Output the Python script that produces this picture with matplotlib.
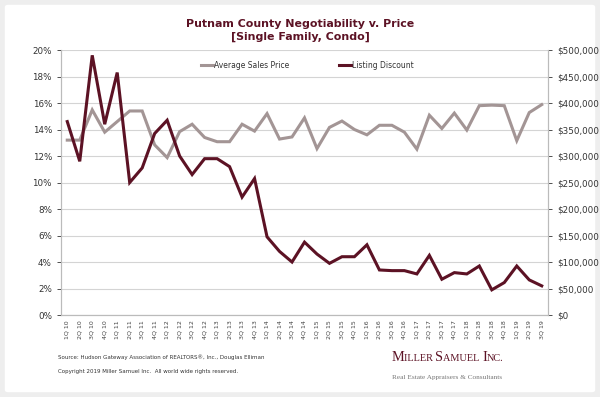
import matplotlib.pyplot as plt
from matplotlib.patches import FancyBboxPatch
from matplotlib.ticker import FuncFormatter, MultipleLocator

quarters = [f"{q}Q {y}" for y in range(10, 20) for q in range(1, 5)][:39]

listing_discount = [
    14.6, 11.6, 19.6, 14.4, 18.3, 10.0, 11.1, 13.7, 14.7, 12.0,
    10.6, 11.8, 11.8, 11.2, 8.9, 10.3, 5.9, 4.8, 4.0, 5.5,
    4.6, 3.9, 4.4, 4.4, 5.3, 3.4, 3.35, 3.35, 3.1, 4.5,
    2.7, 3.2, 3.1, 3.7, 1.9, 2.45, 3.7, 2.65, 2.2,
]

avg_sales_price = [
    330000, 330000, 387000, 345000, 365000, 385000, 385000, 321000, 297000, 346000,
    360000, 335000, 327000, 327000, 360000, 347000, 380000, 332000, 336000, 372000,
    314000, 354000, 366000, 350000, 340000, 358000, 358000, 345000, 313000, 377000,
    352000, 381000, 349000, 395000, 396000, 395000, 329000, 382000, 397000,
]

maroon = "#5c1224"
gray_line = "#a39595"
text_col = "#333333"

fig = plt.figure(figsize=(6, 3.97), dpi=100)
fig.patch.set_facecolor("#eeeeee")
fig.patches.append(FancyBboxPatch((0.008, 0.012), 0.984, 0.976,
                                  boxstyle="round,pad=0,rounding_size=0.006",
                                  transform=fig.transFigure, facecolor="white",
                                  edgecolor="none", zorder=-10))

ax = fig.add_axes([0.1017, 0.2065, 0.8116, 0.6675])
ax2 = ax.twinx()

x = list(range(len(quarters)))
ax2.plot(x, avg_sales_price, color=gray_line, lw=2.2, label="Average Sales Price",
         solid_joinstyle="miter")
ax.plot(x, listing_discount, color=maroon, lw=2.2, label="Listing Discount",
        solid_joinstyle="miter", zorder=5)
ax.set_zorder(ax2.get_zorder() + 1)
ax.patch.set_visible(False)

ax.set_xlim(-0.5, len(quarters) - 0.5)
ax.set_ylim(0, 20)
ax2.set_ylim(0, 500000)
ax.yaxis.set_major_locator(MultipleLocator(2))
ax2.yaxis.set_major_locator(MultipleLocator(50000))
ax.yaxis.set_major_formatter(FuncFormatter(lambda v, p: f"{v:.0f}%"))
ax2.yaxis.set_major_formatter(FuncFormatter(lambda v, p: f"${v:,.0f}"))
ax2.grid(axis="y", color="#d4d4d4", lw=0.8)
ax2.set_axisbelow(True)

ax.set_xticks(x)
ax.set_xticklabels(quarters, rotation=90, fontsize=4.5, color="#444444")
ax.tick_params(axis="x", length=0, pad=4)
ax.tick_params(axis="y", labelsize=6.3, colors=text_col, length=3, width=0.6)
ax2.tick_params(axis="y", labelsize=6.3, colors=text_col, length=3, width=0.6)
for a in (ax, ax2):
    a.spines["top"].set_visible(False)
    for side in ("left", "right", "bottom"):
        a.spines[side].set_color("#bbbbbb")
        a.spines[side].set_linewidth(0.8)
for t in ax.get_yticklines() + ax2.get_yticklines():
    t.set_color("#999999")

h1, l1 = ax2.get_legend_handles_labels()
h2, l2 = ax.get_legend_handles_labels()
ax.legend(h1 + h2, l1 + l2, loc="upper center", bbox_to_anchor=(0.506, 0.985), ncol=2,
          frameon=False, fontsize=5.5, handlelength=1.6, handletextpad=0.1,
          columnspacing=6.5, labelcolor=text_col)

fig.text(0.5, 0.94, "Putnam County Negotiability v. Price", ha="center", va="center",
         fontsize=7.9, fontweight="bold", color=maroon)
fig.text(0.5, 0.907, "[Single Family, Condo]", ha="center", va="center",
         fontsize=7.9, fontweight="bold", color=maroon)

fig.text(0.097, 0.1, "Source: Hudson Gateway Association of REALTORS®, Inc., Douglas Elliman",
         fontsize=4, color=text_col, va="center")
fig.text(0.097, 0.063, "Copyright 2019 Miller Samuel Inc.  All world wide rights reserved.",
         fontsize=4, color=text_col, va="center")

# small caps logo built from pieces
serif = "Liberation Serif"
pieces = [("M", 10.3), ("ILLER ", 7.4), ("S", 10.3), ("AMUEL ", 7.4), ("I", 10.3), ("NC.", 7.4)]
fig.canvas.draw()
renderer = fig.canvas.get_renderer()
xpos = 0.652
for s, size in pieces:
    t = fig.text(xpos, 0.09, s, fontsize=size, family=serif, color=maroon, va="baseline")
    bb = t.get_window_extent(renderer)
    xpos += bb.width / fig.bbox.width
fig.text(0.653, 0.046, "Real Estate Appraisers & Consultants", fontsize=5.2, family=serif,
         color="#777777", ha="left", va="baseline")

fig.savefig("out.png", dpi=100, facecolor=fig.get_facecolor())
